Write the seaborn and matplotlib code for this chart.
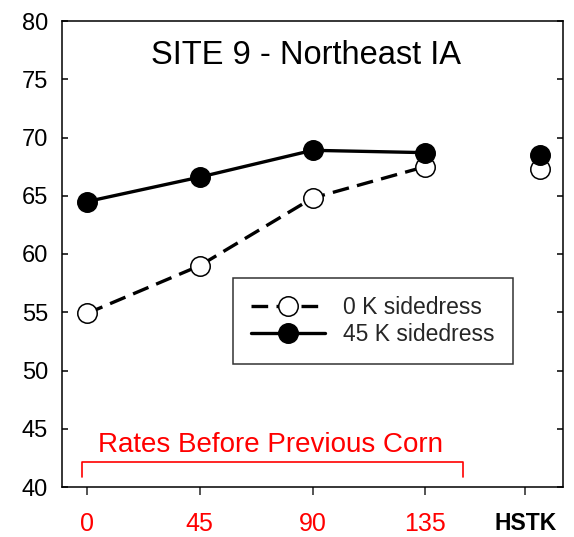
import matplotlib
matplotlib.use("Agg")
import matplotlib.pyplot as plt
import seaborn as sns
import pandas as pd

# ---- data ----
rates = [0, 45, 90, 135]
k0_values = [54.9, 59.0, 64.8, 67.5]
k45_values = [64.5, 66.6, 68.9, 68.7]
hstk_k0 = 67.3
hstk_k45 = 68.5
tick_labels = ["0", "45", "90", "135", "HSTK"]
series_names = ["0 K sidedress", "45 K sidedress"]
title_text = "SITE 9 - Northeast IA"
bracket_text = "Rates Before Previous Corn"

HSTK_TICK = 175
HSTK_POINT = 181

sns.set_theme(style="white")
plt.rcParams["font.family"] = ["Liberation Sans", "DejaVu Sans"]

df = pd.DataFrame({
    "rate": rates * 2,
    "yield": k0_values + k45_values,
    "series": [series_names[0]] * 4 + [series_names[1]] * 4,
})
df_h = pd.DataFrame({
    "rate": [HSTK_POINT, HSTK_POINT],
    "yield": [hstk_k0, hstk_k45],
    "series": series_names,
})

fig = plt.figure(figsize=(5.74, 5.37), dpi=100)
ax = fig.add_axes([62/574, 1-487/537, (563-62)/574, (487-21)/537])

lw = 2.4
ms = 14
mew = 1.1
ls0 = (0, (5, 2.5))

d0 = df[df.series == series_names[0]]
d1 = df[df.series == series_names[1]]
sns.lineplot(data=d0, x="rate", y="yield", ax=ax, color="black", lw=lw,
             marker="o", markersize=ms, markerfacecolor="white",
             markeredgecolor="black", markeredgewidth=mew, linestyle=ls0,
             label=series_names[0], zorder=3)
sns.lineplot(data=d1, x="rate", y="yield", ax=ax, color="black", lw=lw,
             marker="o", markersize=ms, markerfacecolor="black",
             markeredgecolor="black", markeredgewidth=mew,
             label=series_names[1], zorder=4)
# HSTK points (not connected)
ax.plot(df_h["rate"].iloc[0], df_h["yield"].iloc[0], "o", ms=ms,
        mfc="white", mec="black", mew=mew, zorder=3)
ax.plot(df_h["rate"].iloc[1], df_h["yield"].iloc[1], "o", ms=ms,
        mfc="black", mec="black", mew=mew, zorder=4)

ax.set_xlim(-10, 190)
ax.set_ylim(40, 80)
ax.set_xlabel("")
ax.set_ylabel("")

ax.set_yticks(range(40, 81, 5))
ax.set_xticks(rates + [HSTK_TICK])
ax.set_xticklabels(tick_labels)
for i, t in enumerate(ax.get_xticklabels()):
    if i < 4:
        t.set_color("red")
        t.set_fontsize(18)
    else:
        t.set_color("black")
        t.set_fontweight("bold")
        t.set_fontsize(16.5)

ax.tick_params(axis="y", direction="in", length=4.5, width=1.1, labelsize=17,
               left=True, right=True, pad=10, colors="black")
ax.tick_params(axis="x", direction="out", length=5.8, width=1.1, pad=12,
               bottom=True, top=False)
for sp in ax.spines.values():
    sp.set_linewidth(1.1)
    sp.set_color("black")
    sp.set_visible(True)

ax.text(0.487, 0.925, title_text, transform=ax.transAxes, ha="center",
        va="center", fontsize=23.5, color="black")

# bracket
ax.plot([-2, -2, 150, 150], [40.86, 42.15, 42.15, 40.86], color="red", lw=1.2,
        clip_on=False)
ax.text(73.2, 43.0, bracket_text, ha="center", va="baseline", fontsize=20,
        color="red")

leg = ax.legend(loc="upper left", bbox_to_anchor=((233-62)/501, 1-(278-21)/466),
                borderaxespad=0, fontsize=16.5, frameon=True, fancybox=False,
                edgecolor="black", handlelength=3.2, handletextpad=0.8,
                borderpad=0.8, labelspacing=0.16)
leg.get_frame().set_linewidth(1.1)

fig.savefig("out.png", dpi=100)
